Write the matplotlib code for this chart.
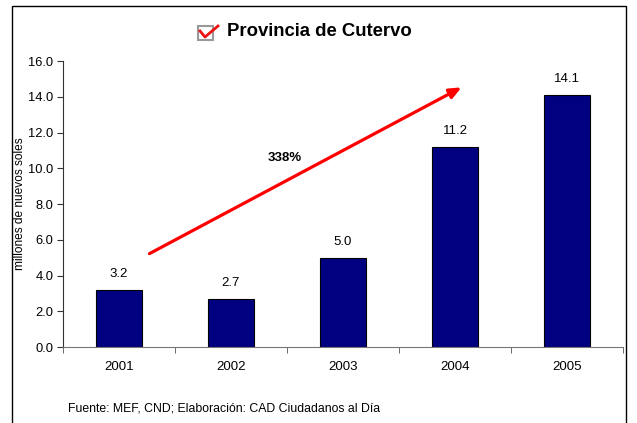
import numpy as np
import matplotlib.pyplot as plt
from matplotlib.patches import Rectangle

plt.rcParams['font.family'] = ['Liberation Sans', 'DejaVu Sans']

years = ['2001', '2002', '2003', '2004', '2005']
montos = [3.2, 2.7, 5.0, 11.2, 14.1]

fig = plt.figure(figsize=(6.37, 4.23), dpi=100)
ax = fig.add_axes([63/637, 1-347/423, 560/637, 286/423])

x = np.arange(len(years))
ax.bar(x, montos, width=0.41, color='#000080', edgecolor='black', linewidth=0.8)
for xi, v in zip(x, montos):
    ax.annotate(f"{v:.1f}", (xi, v), xytext=(0, 7), textcoords='offset points',
                ha='center', va='bottom', fontsize=9.5)

ax.set_xlim(-0.5, len(years) - 0.5)
ax.set_ylim(0, 16)
ax.set_yticks(np.arange(0, 16.1, 2))
ax.set_yticklabels([f"{t:.1f}" for t in np.arange(0, 16.1, 2)], fontsize=9.3)
ax.set_xticks(x)
ax.set_xticklabels(years, fontsize=9.5)
ax.set_xticks(np.arange(-0.5, len(years)), minor=True)
ax.tick_params(axis='x', which='major', length=0, pad=10)
ax.tick_params(axis='x', which='minor', length=4, color='#555555', direction='out')
ax.tick_params(axis='y', length=4, color='#333333', pad=3)
for s in ['top', 'right']:
    ax.spines[s].set_visible(False)
ax.spines['bottom'].set_color('#777777')
ax.spines['left'].set_color('#333333')
ax.set_ylabel("millones de nuevos soles", fontsize=8.6)
ax.yaxis.set_label_coords(-0.066, 0.5)

# flecha de crecimiento
ax.annotate('', xy=(3.08, 14.6), xytext=(0.25, 5.15),
            arrowprops=dict(arrowstyle='-|>,head_length=0.7,head_width=0.3',
                            color='#ff0000', lw=2.3))
ax.text(1.48, 10.6, "338%", fontsize=9.5, fontweight='bold', ha='center', va='center')

# titulo con icono
fig.text(319/637, 1-32/423, "Provincia de Cutervo", fontsize=13.3, fontweight='bold',
         ha='center', va='center')
fig.patches.append(Rectangle((198/637, 1-40/423), 15/637, 14/423, transform=fig.transFigure,
                             fill=False, edgecolor='#999999', linewidth=1.5))
fig.lines.append(plt.Line2D([200/637, 205/637, 218/637], [1-31/423, 1-37/423, 1-26/423],
                            transform=fig.transFigure, color='#ee1111', linewidth=2))

fig.text(68/637, 1-408/423, "Fuente: MEF, CND; Elaboración: CAD Ciudadanos al Día",
         fontsize=8.8, ha='left', va='center')

# marco
fig.patches.append(Rectangle((12/637, -0.02), 614/637, 1-6/423+0.02, transform=fig.transFigure,
                             fill=False, edgecolor='black', linewidth=1))

fig.savefig("out.png", dpi=100)
